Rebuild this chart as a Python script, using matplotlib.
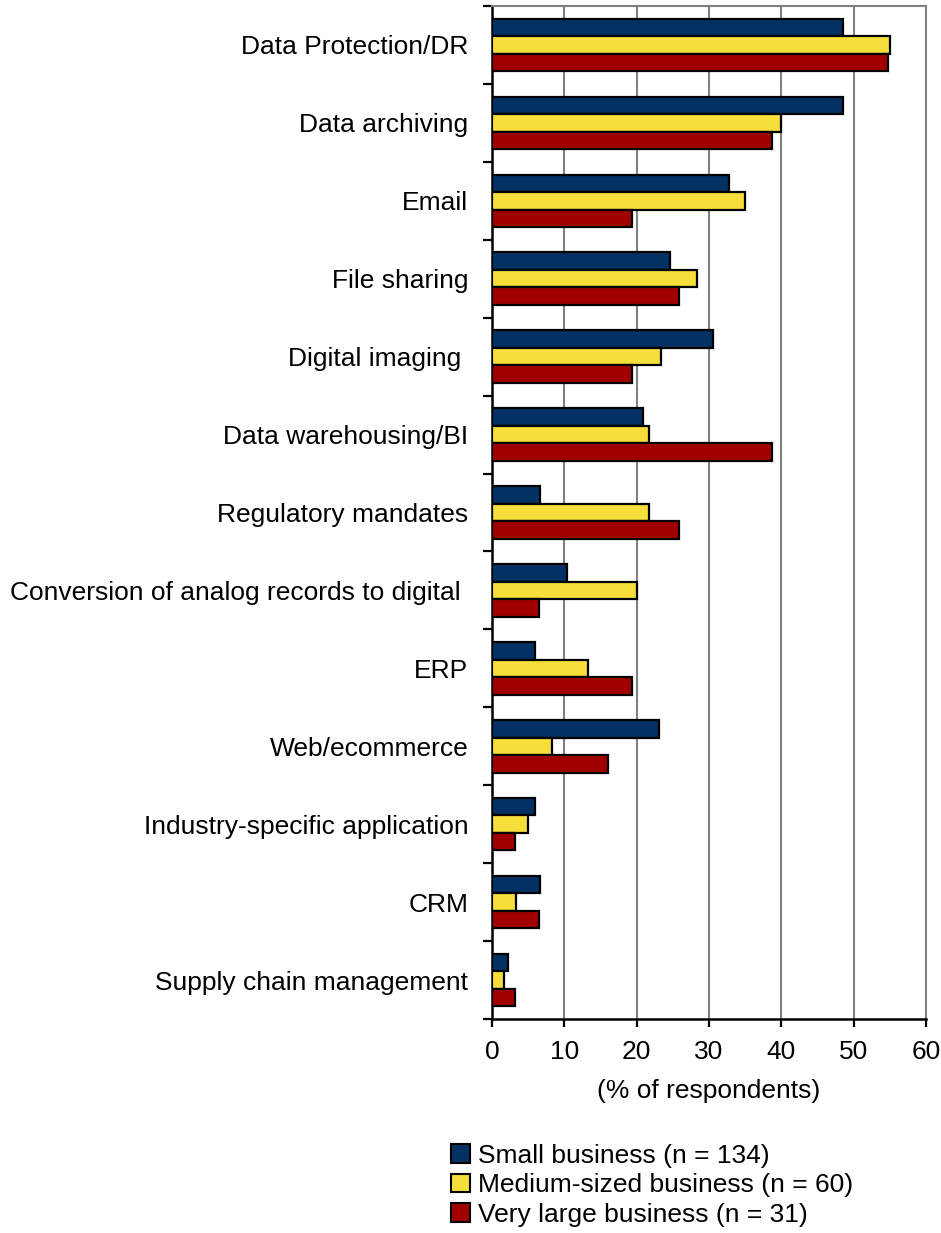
import numpy as np
import matplotlib
matplotlib.use('Agg')
import matplotlib.pyplot as plt
from matplotlib.patches import Patch

plt.rcParams['font.family'] = ['Liberation Sans', 'DejaVu Sans']

categories = [
    'Data Protection/DR',
    'Data archiving',
    'Email',
    'File sharing',
    'Digital imaging ',
    'Data warehousing/BI',
    'Regulatory mandates',
    'Conversion of analog records to digital ',
    'ERP',
    'Web/ecommerce',
    'Industry-specific application',
    'CRM',
    'Supply chain management',
]
small = [48.5, 48.5, 32.8, 24.6, 30.6, 20.9, 6.7, 10.4, 6.0, 23.1, 6.0, 6.7, 2.2]
medium = [55.0, 40.0, 35.0, 28.3, 23.3, 21.7, 21.7, 20.0, 13.3, 8.3, 5.0, 3.3, 1.7]
large = [54.8, 38.7, 19.4, 25.8, 19.4, 38.7, 25.8, 6.5, 19.4, 16.1, 3.2, 6.5, 3.2]
series_labels = ['Small business (n = 134)',
                 'Medium-sized business (n = 60)',
                 'Very large business (n = 31)']
colors = ['#033163', '#F7DF3B', '#A20000']

fig = plt.figure(figsize=(9.41, 12.33), dpi=100)
ax = fig.add_axes([492 / 941, 214 / 1233, 434 / 941, 1013 / 1233])

y = np.arange(len(categories))
h = 0.225
for k, (vals, col) in enumerate(zip([small, medium, large], colors)):
    ax.barh(y + (k - 1) * h, vals, height=h, color=col, edgecolor='black',
            linewidth=1.6, zorder=3)

ax.set_xlim(0, 60)
ax.set_ylim(len(categories) - 0.5, -0.5)
ax.set_xticks(np.arange(0, 61, 10))
ax.xaxis.grid(True, color='#808080', linewidth=1.5, zorder=0)

ax.set_yticks(y)
ax.set_yticklabels(categories)
ax.set_yticks(np.arange(-0.5, len(categories), 1), minor=True)
ax.tick_params(axis='y', which='major', length=0, pad=17, labelsize=19)
ax.tick_params(axis='y', which='minor', length=6.7, width=1.6, direction='out')
ax.tick_params(axis='x', length=6, width=1.6, direction='out', pad=9, labelsize=19)

for s in ['left', 'bottom']:
    ax.spines[s].set_linewidth(1.8)
    ax.spines[s].set_color('black')
for s in ['top', 'right']:
    ax.spines[s].set_linewidth(1.5)
    ax.spines[s].set_color('#808080')

ax.set_xlabel('(% of respondents)', fontsize=19, labelpad=11)

handles = [Patch(facecolor=c, edgecolor='black', linewidth=1.5) for c in colors]
fig.legend(handles, series_labels, loc='upper left',
           bbox_to_anchor=(451 / 941, 1 - 1144 / 1233), frameon=False,
           fontsize=19, handlelength=0.72, handleheight=0.72,
           handletextpad=0.32, labelspacing=0.2, borderpad=0, borderaxespad=0)

fig.savefig('out.png', dpi=100)
